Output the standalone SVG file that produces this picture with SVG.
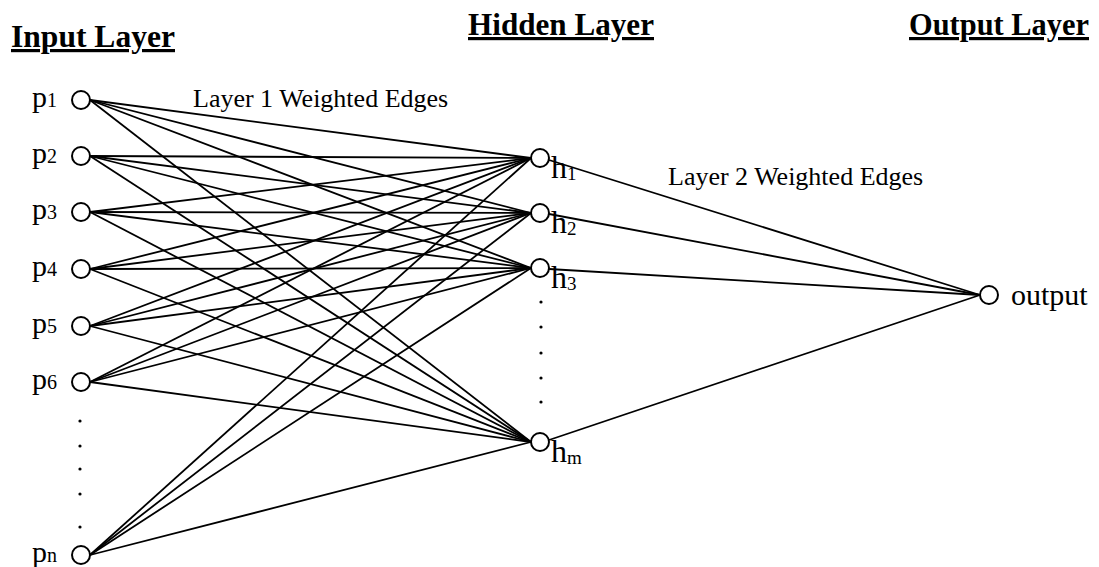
<svg xmlns="http://www.w3.org/2000/svg" width="1099" height="567" viewBox="0 0 1099 567">
<style>
.title{font-family:"Liberation Serif","Times New Roman",serif;font-weight:bold;font-size:32px;text-decoration:underline;fill:#000}
.lbl{font-family:"Liberation Serif","Times New Roman",serif;font-size:30px;fill:#000}
.hl{font-size:32px}
.sub{font-size:20px}
.hs{font-size:19px}
.edge-lbl{font-family:"Liberation Serif","Times New Roman",serif;font-size:26px;fill:#000}
.node{fill:#fff;stroke:#000;stroke-width:2}
.dot{fill:#000}
#connectors line{stroke:#000;stroke-width:1.8}
</style>
<rect width="1099" height="567" fill="#fff"/>
<g id="titles">
<text class="title" x="11" y="47" textLength="164" lengthAdjust="spacingAndGlyphs">Input Layer</text>
<text class="title" x="468" y="35" textLength="186" lengthAdjust="spacingAndGlyphs">Hidden Layer</text>
<text class="title" x="909" y="35" textLength="180" lengthAdjust="spacingAndGlyphs">Output Layer</text>
</g>
<g id="connectors">
<line x1="90" y1="100" x2="531" y2="158"/><line x1="90" y1="100" x2="531" y2="213"/><line x1="90" y1="100" x2="531" y2="268"/><line x1="90" y1="100" x2="531" y2="442"/>
<line x1="90" y1="156" x2="531" y2="158"/><line x1="90" y1="156" x2="531" y2="213"/><line x1="90" y1="156" x2="531" y2="268"/><line x1="90" y1="156" x2="531" y2="442"/>
<line x1="90" y1="212" x2="531" y2="158"/><line x1="90" y1="212" x2="531" y2="213"/><line x1="90" y1="212" x2="531" y2="268"/><line x1="90" y1="212" x2="531" y2="442"/>
<line x1="90" y1="269" x2="531" y2="158"/><line x1="90" y1="269" x2="531" y2="213"/><line x1="90" y1="269" x2="531" y2="268"/><line x1="90" y1="269" x2="531" y2="442"/>
<line x1="90" y1="326" x2="531" y2="158"/><line x1="90" y1="326" x2="531" y2="213"/><line x1="90" y1="326" x2="531" y2="268"/><line x1="90" y1="326" x2="531" y2="442"/>
<line x1="90" y1="382" x2="531" y2="158"/><line x1="90" y1="382" x2="531" y2="213"/><line x1="90" y1="382" x2="531" y2="268"/><line x1="90" y1="382" x2="531" y2="442"/>
<line x1="90" y1="555" x2="531" y2="158"/><line x1="90" y1="555" x2="531" y2="213"/><line x1="90" y1="555" x2="531" y2="268"/><line x1="90" y1="555" x2="531" y2="442"/>
<line x1="549" y1="160" x2="980" y2="295"/><line x1="549" y1="214" x2="980" y2="295"/><line x1="549" y1="269" x2="980" y2="295"/><line x1="549" y1="440" x2="980" y2="295"/>
</g>
<g id="edge-labels">
<text class="edge-lbl" x="193" y="107">Layer 1 Weighted Edges</text>
<text class="edge-lbl" x="668" y="185">Layer 2 Weighted Edges</text>
</g>
<g id="p1"><circle class="node" cx="81" cy="100" r="9"/><text class="lbl" x="32" y="107">p<tspan class="sub">1</tspan></text></g>
<g id="p2"><circle class="node" cx="81" cy="156" r="9"/><text class="lbl" x="32" y="163">p<tspan class="sub">2</tspan></text></g>
<g id="p3"><circle class="node" cx="81" cy="212" r="9"/><text class="lbl" x="32" y="219">p<tspan class="sub">3</tspan></text></g>
<g id="p4"><circle class="node" cx="81" cy="269" r="9"/><text class="lbl" x="32" y="276">p<tspan class="sub">4</tspan></text></g>
<g id="p5"><circle class="node" cx="81" cy="326" r="9"/><text class="lbl" x="32" y="333">p<tspan class="sub">5</tspan></text></g>
<g id="p6"><circle class="node" cx="81" cy="382" r="9"/><text class="lbl" x="32" y="389">p<tspan class="sub">6</tspan></text></g>
<g id="input-dots"><circle class="dot" cx="80" cy="421" r="1.6"/><circle class="dot" cx="80" cy="446" r="1.6"/><circle class="dot" cx="80" cy="469" r="1.6"/><circle class="dot" cx="80" cy="494" r="1.6"/><circle class="dot" cx="80" cy="527" r="1.6"/></g>
<g id="pn"><circle class="node" cx="81" cy="555" r="9"/><text class="lbl" x="32" y="562">p<tspan class="sub">n</tspan></text></g>
<g id="h1"><circle class="node" cx="540" cy="158" r="9"/><text class="lbl hl" x="551" y="178">h<tspan class="hs" dy="2">1</tspan></text></g>
<g id="h2"><circle class="node" cx="540" cy="213" r="9"/><text class="lbl hl" x="551" y="233">h<tspan class="hs" dy="2">2</tspan></text></g>
<g id="h3"><circle class="node" cx="540" cy="268" r="9"/><text class="lbl hl" x="551" y="288">h<tspan class="hs" dy="2">3</tspan></text></g>
<g id="hidden-dots"><circle class="dot" cx="541" cy="302" r="1.6"/><circle class="dot" cx="541" cy="327" r="1.6"/><circle class="dot" cx="541" cy="353" r="1.6"/><circle class="dot" cx="541" cy="378" r="1.6"/><circle class="dot" cx="541" cy="402" r="1.6"/></g>
<g id="hm"><circle class="node" cx="540" cy="442" r="9"/><text class="lbl hl" x="551" y="462">h<tspan class="hs" dy="2">m</tspan></text></g>
<g id="output"><circle class="node" cx="989" cy="295" r="9"/><text class="lbl" x="1011" y="305" font-size="33">output</text></g>
</svg>
